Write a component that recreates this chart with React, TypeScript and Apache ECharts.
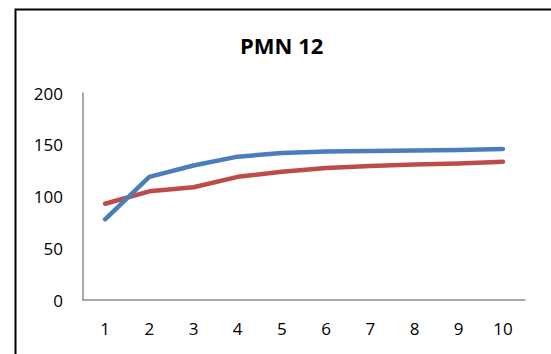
import React, { useEffect, useRef } from "react";
import * as echarts from "echarts";

const categories = ["1", "2", "3", "4", "5", "6", "7", "8", "9", "10"];
const blueSeries = [78, 119, 130, 138.5, 142, 143.5, 144, 144.5, 145, 146];
const redSeries = [93, 105, 109, 119, 124, 127.5, 129.5, 131, 132, 133.5];
const yTicks = { min: 0, max: 200, interval: 50 };
const chartTitle = "PMN 12";

const FONT = "'Open Sans', 'Liberation Sans', sans-serif";

export default function App() {
  const ref = useRef<HTMLDivElement>(null);

  useEffect(() => {
    if (!ref.current) return;
    const chart = echarts.init(ref.current, undefined, { renderer: "svg" });
    chart.setOption({
      animation: false,
      backgroundColor: "#ffffff",
      title: {
        text: chartTitle,
        left: 240,
        top: 31,
        padding: 0,
        textStyle: {
          fontFamily: FONT,
          fontWeight: "bold",
          fontSize: 22,
          lineHeight: 28,
          color: "#000000",
        },
      },
      grid: { left: 83, right: 26, top: 93, bottom: 54, containLabel: false },
      xAxis: {
        type: "category",
        data: categories,
        boundaryGap: true,
        axisLine: { show: true, lineStyle: { color: "#8c8c8c", width: 1.5 } },
        axisTick: { show: false },
        axisLabel: { margin: 20, fontFamily: FONT, fontSize: 17, color: "#000000" },
        splitLine: { show: false },
      },
      yAxis: {
        type: "value",
        min: yTicks.min,
        max: yTicks.max,
        interval: yTicks.interval,
        axisLine: { show: true, lineStyle: { color: "#8c8c8c", width: 1.5 } },
        axisTick: { show: false },
        axisLabel: { margin: 20, fontFamily: FONT, fontSize: 17, color: "#000000" },
        splitLine: { show: false },
      },
      series: [
        {
          type: "line",
          data: blueSeries,
          showSymbol: false,
          symbol: "none",
          lineStyle: { color: "#4a7ebb", width: 4.5, cap: "round", join: "round" },
          z: 3,
        },
        {
          type: "line",
          data: redSeries,
          showSymbol: false,
          symbol: "none",
          lineStyle: { color: "#be4b48", width: 4.5, cap: "round", join: "round" },
          z: 2,
        },
      ],
      graphic: [
        {
          type: "rect",
          left: 13,
          top: 7,
          shape: { x: 0, y: 0, width: 600, height: 400 },
          style: { fill: "none", stroke: "#000000", lineWidth: 2 },
          silent: true,
        },
      ],
    });
    return () => chart.dispose();
  }, []);

  return (
    <div
      ref={ref}
      style={{ position: "absolute", left: 0, top: 0, width: 551, height: 354 }}
    />
  );
}
